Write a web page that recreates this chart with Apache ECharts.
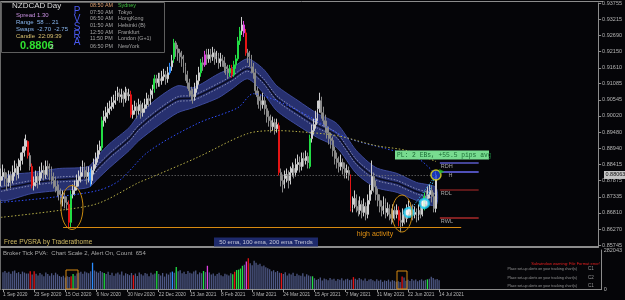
<!DOCTYPE html>
<html><head><meta charset="utf-8">
<script src="https://cdn.jsdelivr.net/npm/echarts@6/dist/echarts.min.js"></script>
<style>html,body{margin:0;padding:0;background:#050508;}#c{width:625px;height:300px;}</style>
</head><body><div id="c"></div>
<script>
const dateTicks = ['1 Sep 2020','23 Sep 2020','15 Oct 2020','6 Nov 2020','30 Nov 2020','22 Dec 2020','15 Jan 2021','8 Feb 2021','3 Mar 2021','24 Mar 2021','15 Apr 2021','7 May 2021','31 May 2021','22 Jun 2021','14 Jul 2021'];
const priceTicks = [0.93755,0.93215,0.92690,0.92150,0.91610,0.91085,0.90545,0.90020,0.89480,0.88940,0.88415,0.87875,0.87335,0.86810,0.86270,0.85745];

const opens = [0.87881,0.88013,0.88145,0.87947,0.87815,0.88046,0.87881,0.88145,0.88277,0.88079,
0.88343,0.88541,0.88805,0.89003,0.89168,0.88706,0.88343,0.87716,0.87815,0.88013,
0.87881,0.88145,0.88211,0.88079,0.88343,0.88277,0.88145,0.88013,0.87881,0.87683,
0.87551,0.87419,0.87287,0.87353,0.87155,0.87089,0.86495,0.87419,0.87551,0.87683,
0.87881,0.88013,0.88145,0.88343,0.88211,0.88013,0.88145,0.87881,0.88211,0.88409,
0.88607,0.88871,0.88970,0.89861,0.89993,0.90125,0.90257,0.90323,0.90455,0.90521,
0.90653,0.90785,0.90653,0.90719,0.90587,0.90785,0.90686,0.90719,0.90059,0.90191,
0.90323,0.90191,0.90389,0.90125,0.90257,0.90389,0.90587,0.90521,0.90719,0.90917,
0.91247,0.91115,0.91247,0.91181,0.91313,0.91379,0.91247,0.91445,0.91643,0.91907,
0.92435,0.92237,0.92105,0.91973,0.91907,0.91643,0.91379,0.91115,0.90851,0.90719,
0.90653,0.90917,0.91181,0.91445,0.91775,0.91709,0.92039,0.91907,0.92039,0.91973,
0.92105,0.91907,0.91973,0.91775,0.91907,0.91841,0.91643,0.91577,0.91445,0.91577,
0.91379,0.91709,0.91907,0.92501,0.92831,0.93029,0.92765,0.92105,0.91973,0.91841,
0.91643,0.91445,0.90851,0.90653,0.90521,0.90389,0.90521,0.90257,0.89993,0.89861,
0.89663,0.89795,0.89597,0.89696,0.88145,0.87881,0.87749,0.87947,0.88079,0.87881,
0.88145,0.88277,0.88145,0.88409,0.88475,0.88343,0.88607,0.88541,0.88673,0.88343,
0.89267,0.89531,0.89729,0.89927,0.90257,0.90521,0.90125,0.89861,0.89663,0.89465,
0.89267,0.89201,0.88871,0.88607,0.88475,0.88343,0.88475,0.88277,0.88145,0.88211,
0.88013,0.86957,0.87089,0.87287,0.87023,0.86891,0.87089,0.86825,0.87023,0.86759,
0.87221,0.87551,0.88013,0.87683,0.87419,0.87221,0.87023,0.86891,0.87089,0.86825,
0.86957,0.86759,0.86627,0.86891,0.86759,0.86891,0.86561,0.86495,0.86759,0.86627,
0.86891,0.87023,0.86891,0.86759,0.86825,0.86693,0.86891,0.86759,0.86957,0.87353,
0.87287,0.87419,0.87551,0.87353,0.86957];

const closes = [0.88013,0.88145,0.87947,0.87815,0.88046,0.87881,0.88145,0.88277,0.88079,0.88343,
0.88541,0.88805,0.89003,0.89201,0.88706,0.88343,0.87716,0.87815,0.88013,0.87881,
0.88145,0.88211,0.88079,0.88343,0.88277,0.88145,0.88013,0.87881,0.87683,0.87551,
0.87419,0.87287,0.87353,0.87155,0.87089,0.86495,0.87419,0.87551,0.87683,0.87881,
0.88013,0.88145,0.88343,0.88211,0.88013,0.88145,0.87881,0.88211,0.88409,0.88607,
0.88871,0.89003,0.89861,0.89993,0.90125,0.90257,0.90323,0.90455,0.90521,0.90653,
0.90785,0.90653,0.90719,0.90587,0.90785,0.90686,0.90719,0.90059,0.90191,0.90323,
0.90191,0.90389,0.90125,0.90257,0.90389,0.90587,0.90521,0.90719,0.90851,0.91247,
0.91115,0.91247,0.91181,0.91313,0.91379,0.91247,0.91445,0.91643,0.91841,0.92435,
0.92237,0.92105,0.91973,0.91907,0.91643,0.91379,0.91115,0.90851,0.90719,0.90653,
0.90917,0.91181,0.91445,0.91775,0.91709,0.92039,0.91907,0.92039,0.91973,0.92105,
0.91907,0.91973,0.91775,0.91907,0.91841,0.91643,0.91577,0.91445,0.91577,0.91379,
0.91709,0.91907,0.92501,0.92831,0.93029,0.92765,0.92105,0.91973,0.91841,0.91643,
0.91445,0.90851,0.90653,0.90521,0.90389,0.90521,0.90257,0.89993,0.89861,0.89663,
0.89795,0.89597,0.89729,0.88145,0.87881,0.87749,0.87947,0.88079,0.87881,0.88145,
0.88277,0.88145,0.88409,0.88475,0.88343,0.88607,0.88541,0.88673,0.88475,0.89267,
0.89531,0.89729,0.89927,0.90257,0.90521,0.90125,0.89861,0.89663,0.89465,0.89267,
0.89201,0.88871,0.88607,0.88475,0.88343,0.88475,0.88277,0.88145,0.88211,0.88079,
0.86957,0.87089,0.87287,0.87023,0.86891,0.87089,0.86825,0.87023,0.86759,0.87221,
0.87551,0.88013,0.87683,0.87419,0.87221,0.87023,0.86891,0.87089,0.86825,0.86957,
0.86759,0.86627,0.86891,0.86759,0.86891,0.86561,0.86495,0.86759,0.86627,0.86891,
0.87023,0.86891,0.86759,0.86825,0.86693,0.86891,0.86759,0.87023,0.87353,0.87287,
0.87419,0.87551,0.87353,0.86957,0.88063];

const highs = [0.88277,0.88409,0.88277,0.88145,0.88211,0.88178,0.88376,0.88541,0.88442,0.88607,
0.88805,0.89003,0.89267,0.89399,0.89201,0.88805,0.88442,0.88013,0.88211,0.88145,
0.88343,0.88475,0.88376,0.88541,0.88541,0.88442,0.88343,0.88145,0.88013,0.87881,
0.87749,0.87617,0.87551,0.87485,0.87353,0.87221,0.87551,0.87749,0.87881,0.88079,
0.88211,0.88343,0.88541,0.88475,0.88343,0.88343,0.88277,0.88343,0.88607,0.88805,
0.89069,0.89201,0.89993,0.90191,0.90323,0.90455,0.90521,0.90653,0.90719,0.90851,
0.90983,0.90917,0.90917,0.90851,0.90983,0.90917,0.90917,0.90851,0.90389,0.90521,
0.90455,0.90587,0.90521,0.90455,0.90587,0.90785,0.90719,0.90917,0.91049,0.91379,
0.91379,0.91445,0.91445,0.91511,0.91577,0.91511,0.91643,0.91775,0.92039,0.92567,
0.92501,0.92369,0.92237,0.92171,0.92039,0.91775,0.91511,0.91247,0.90983,0.90917,
0.91115,0.91379,0.91643,0.91907,0.91973,0.92171,0.92237,0.92237,0.92237,0.92303,
0.92237,0.92171,0.92105,0.92105,0.92039,0.91973,0.91775,0.91709,0.91709,0.91709,
0.91841,0.92039,0.92633,0.92963,0.93293,0.93161,0.92897,0.92237,0.92171,0.92039,
0.91775,0.91577,0.90983,0.90851,0.90719,0.90785,0.90653,0.90389,0.90191,0.90059,
0.89993,0.89927,0.89927,0.89795,0.88277,0.88079,0.88211,0.88277,0.88211,0.88343,
0.88475,0.88409,0.88607,0.88739,0.88673,0.88805,0.88805,0.88871,0.88805,0.89399,
0.89729,0.89927,0.90191,0.90521,0.90785,0.90653,0.90323,0.90059,0.89861,0.89663,
0.89465,0.89333,0.89003,0.88805,0.88673,0.88739,0.88607,0.88475,0.88409,0.88343,
0.88079,0.87353,0.87551,0.87419,0.87221,0.87353,0.87221,0.87287,0.87155,0.87419,
0.87749,0.88541,0.88145,0.87881,0.87617,0.87419,0.87221,0.87353,0.87287,0.87155,
0.87089,0.86957,0.87089,0.87023,0.87089,0.87023,0.86825,0.86957,0.86891,0.87089,
0.87221,0.87155,0.87089,0.87023,0.86957,0.87089,0.87023,0.87221,0.87485,0.87551,
0.87683,0.87749,0.87683,0.87485,0.88178];

const lows = [0.87683,0.87881,0.87716,0.87551,0.87683,0.87617,0.87782,0.88013,0.87881,0.87947,
0.88211,0.88409,0.88673,0.88871,0.88607,0.88211,0.87617,0.87551,0.87683,0.87617,
0.87749,0.87947,0.87881,0.87947,0.88013,0.87881,0.87749,0.87617,0.87485,0.87353,
0.87221,0.87089,0.87023,0.86957,0.86891,0.86330,0.86330,0.87287,0.87386,0.87551,
0.87683,0.87815,0.88013,0.87947,0.87749,0.87815,0.87683,0.87749,0.88079,0.88277,
0.88475,0.88739,0.88871,0.89663,0.89795,0.89927,0.90059,0.90191,0.90257,0.90389,
0.90521,0.90455,0.90455,0.90323,0.90455,0.90521,0.90521,0.89960,0.89927,0.90059,
0.89927,0.90059,0.89927,0.89993,0.90125,0.90257,0.90323,0.90389,0.90587,0.90785,
0.90917,0.90983,0.90983,0.91049,0.91181,0.91049,0.91115,0.91379,0.91511,0.91775,
0.91973,0.91841,0.91775,0.91643,0.91445,0.91181,0.90917,0.90653,0.90521,0.90422,
0.90521,0.90785,0.91049,0.91313,0.91511,0.91643,0.91709,0.91775,0.91775,0.91841,
0.91709,0.91775,0.91577,0.91643,0.91643,0.91445,0.91379,0.91247,0.91313,0.91280,
0.91313,0.91577,0.91841,0.92369,0.92699,0.92633,0.92006,0.91775,0.91643,0.91445,
0.91247,0.90719,0.90389,0.90257,0.90191,0.90257,0.90059,0.89795,0.89663,0.89465,
0.89531,0.89399,0.89465,0.88046,0.87683,0.87485,0.87617,0.87815,0.87617,0.87749,
0.88013,0.87947,0.88013,0.88211,0.88145,0.88211,0.88343,0.88409,0.88277,0.88277,
0.89135,0.89399,0.89597,0.89795,0.90125,0.89927,0.89663,0.89465,0.89267,0.89069,
0.88937,0.88673,0.88409,0.88277,0.88145,0.88211,0.88079,0.87947,0.87947,0.87881,
0.86858,0.86825,0.86957,0.86825,0.86693,0.86759,0.86627,0.86693,0.86561,0.86627,
0.87089,0.87419,0.87485,0.87221,0.87023,0.86825,0.86693,0.86759,0.86627,0.86693,
0.86561,0.86429,0.86495,0.86561,0.86627,0.86363,0.86165,0.86363,0.86429,0.86495,
0.86759,0.86693,0.86561,0.86627,0.86495,0.86561,0.86627,0.86693,0.86891,0.87089,
0.87155,0.87287,0.87155,0.86825,0.86825];

const volumes = [121000,130000,118000,125000,110000,128000,134000,115000,122000,108000,126000,119000,112000,
112000,128000,104000,128000,
110000,98000,116000,104000,92000,120000,108000,96000,114000,100000,118000,106000,94000,
88000,96000,84000,92000,86000,
92000,108000,
96000,112000,118000,124000,110000,126000,120000,114000,128000,
190000,
134000,126000,118000,130000,122000,
116000,
108000,124000,102000,118000,96000,112000,120000,104000,126000,98000,114000,108000,100000,116000,
100000,
112000,94000,120000,106000,98000,116000,110000,92000,118000,104000,112000,
130000,
108000,98000,116000,90000,112000,104000,120000,
126000,118000,160000,
128000,136000,114000,124000,108000,130000,118000,112000,126000,134000,106000,120000,114000,
130000,122000,168000,
120000,104000,112000,96000,108000,118000,100000,92000,110000,104000,98000,114000,
107000,125000,137000,140000,148000,168000,176000,198000,222000,
186000,172000,205000,190000,176000,182000,164000,170000,158000,
150000,142000,128000,136000,122000,130000,118000,
115000,
108000,122000,98000,112000,104000,118000,94000,110000,100000,96000,114000,90000,106000,98000,92000,
92000,
78000,66000,72000,84000,62000,76000,70000,64000,80000,68000,74000,60000,72000,66000,78000,62000,70000,74000,64000,68000,
86000,
74000,66000,80000,70000,62000,76000,58000,68000,72000,64000,56000,70000,60000,66000,52000,62000,58000,68000,54000,64000,60000,
52000,56000,50000,
90000,84000,60000,
66000,58000,72000,62000,68000,56000,64000,70000,60000,66000,
70000,
74000,89000,80000,68000,72000,64000];

const climaxUp = [36,52,79,89,103,118,120,121,122,123,159,218];
const climaxDown = [14,16,35,67,119,126,143,180,205];
const risingUp = [46,87];
const risingDown = [105,125];

const bandIdx   = [0,16,30,45,50,56,66,71,81,91,99,112,119,127,135,142,153,163,173,183,193,204,214,224];
const bandUpper = [0.87980,0.88145,0.88277,0.88343,0.88706,0.89102,0.89630,0.90059,0.90620,0.91016,0.90950,0.91412,0.91610,0.91907,0.91577,0.91016,0.90521,0.90092,0.89762,0.88871,0.88310,0.88112,0.87815,0.87650];
const bandLower = [0.87221,0.87452,0.87551,0.87650,0.87947,0.88310,0.88871,0.89201,0.89696,0.90125,0.90290,0.90620,0.90917,0.91247,0.90785,0.90191,0.89696,0.89300,0.88970,0.88112,0.87650,0.87485,0.87221,0.87056];

const ema100Idx = [0,26,50,61,76,101,122,130,142,153,158,178,198,214,224];
const ema100    = [0.87155,0.87320,0.87551,0.87881,0.88838,0.89762,0.90290,0.90752,0.90521,0.90191,0.90026,0.89300,0.88937,0.88640,0.88079];
const ema200Idx = [0,30,50,71,76,101,127,142,153,173,193,209,224];
const ema200    = [0.86660,0.86891,0.87122,0.87815,0.87947,0.88640,0.89432,0.89531,0.89498,0.89366,0.89036,0.88871,0.88508];

const levelNames  = ['RDH','H','RDL','RWL'];
const levelValues = [0.88475,0.88178,0.87584,0.86660];
const currentPrice = 0.88063;
const lowLevel = 0.86340;
const signalIdx = [210,218];
const signalPrice = [0.86825,0.87122];
const volumeMax = 282043;
const sessionTimes = ['08:50 AM','07:50 AM','06:50 AM','01:50 AM','12:50 AM','11:50 PM','06:50 PM'];
const sessionNames = ['Sydney','Tokyo','HongKong','Helsinki (B)','Frankfurt','London (G+1)','NewYork'];

const SLOTS = 308;
const LAST = opens.length - 1;
const FONT = '"Liberation Sans", Arial, sans-serif';
const cats = Array.from({length: SLOTS}, (_, i) => String(i));

const kinds = opens.map(() => 'n');
climaxUp.forEach(i => kinds[i] = 'cu');
climaxDown.forEach(i => kinds[i] = 'cd');
risingUp.forEach(i => kinds[i] = 'ru');
risingDown.forEach(i => kinds[i] = 'rd');
const special = {cu:'#22dd44', cd:'#e41414', ru:'#2a8cff', rd:'#e040e0'};

const candleData = opens.map((o, i) => {
  const k = kinds[i];
  const c = k === 'n' ? (closes[i] >= o ? '#cfcfcf' : '#8a8a8a') : special[k];
  return {value:[o, closes[i], lows[i], highs[i]], itemStyle:{color:c, color0:c, borderColor:c, borderColor0:c}};
});
const volData = volumes.map((v, i) => ({value:v, itemStyle:{color: kinds[i] === 'n' ? '#4d5784' : special[kinds[i]]}}));

const tickInt = (index) => index % 16 === 0 && index / 16 < dateTicks.length;

const levelColors = ['#5a5ac8','#6a6af5','#7a1f1f','#a82a2a'];
const levelLines = levelNames.map((n, k) => [
  {coord:[226, levelValues[k]], lineStyle:{color:levelColors[k], width:1.5, type:'solid'},
   label:{show:true, position:'insideStartBottom', formatter: n === 'H' ? '     H' : n, color:'#a8a8a8', fontSize:5.5, fontFamily:FONT, distance:1}},
  {coord:[246, levelValues[k]]}
]);

function txt(x, y, text, color, size, extra) {
  return Object.assign({type:'text', x, y, silent:true, z:100,
    style:{text, fill:color, font:`${size}px ${FONT}`, verticalAlign:'middle', align:'left'}}, extra || {});
}

const graphics = [
  {type:'line', silent:true, shape:{x1:0,y1:1.5,x2:603,y2:1.5}, style:{stroke:'#8c8c8c', lineWidth:1}},
  {type:'line', silent:true, shape:{x1:0.5,y1:1,x2:0.5,y2:290}, style:{stroke:'#6a6a6a', lineWidth:1}},
  {type:'rect', silent:true, z:99, shape:{x:1.5,y:2.5,width:163,height:50}, style:{fill:'#050508', stroke:'#5e5e5e', lineWidth:1}},
  txt(12, 6, 'NZDCAD', '#d8d8d8', 8),
  txt(47, 6, 'Day', '#d8d8d8', 8),
  txt(16, 15.7, 'Spread 1.30', '#c890e0', 6),
  txt(16, 22.7, 'Range  58 ... 21', '#8ab8f0', 6),
  txt(16, 29.3, 'Swaps  -2.70  -2.75', '#8ab8f0', 6),
  txt(16, 36, 'Candle  22:09:39', '#d8c070', 6),
  {type:'text', x:20, y:45.7, silent:true, z:100, style:{text:'0.8806', fill:'#30e030', font:`bold 11px ${FONT}`, verticalAlign:'middle'}},
  txt(50, 47, '2', '#c8c8c8', 6.5),
];
['P','V','S','R','A'].forEach((ch, k) => graphics.push(
  {type:'text', x:77, y:11.5 + k*7.8, silent:true, z:100, style:{text:ch, fill:'#4a5af0', font:`10px ${FONT}`, align:'center', verticalAlign:'middle'}}));
const rowY = [5.7,12.3,19,25.7,32.3,39,46.7];
sessionTimes.forEach((t, k) => graphics.push(txt(90, rowY[k], t, k === 0 ? '#e0a070' : '#a4a4a4', 5.4)));
sessionNames.forEach((t, k) => graphics.push(txt(118, rowY[k], t, k === 0 ? '#40c040' : '#a4a4a4', 5.4)));
graphics.push(
  {type:'ellipse', silent:true, z:50, shape:{cx:72,cy:207.5,rx:11,ry:22}, style:{fill:'transparent', stroke:'#c88a10', lineWidth:1}},
  {type:'ellipse', silent:true, z:50, shape:{cx:402,cy:213.5,rx:10,ry:18.5}, style:{fill:'transparent', stroke:'#c88a10', lineWidth:1}},
  {type:'text', x:375, y:234, silent:true, z:100, style:{text:'high activity', fill:'#e09012', font:`7px ${FONT}`, align:'center', verticalAlign:'middle'}},
  txt(4, 242, 'Free PVSRA by Traderathome', '#d2bc64', 6.5),
  {type:'rect', silent:true, z:99, shape:{x:214,y:237.5,width:104,height:9}, style:{fill:'#1e2a6c'}},
  {type:'text', x:266, y:242, silent:true, z:100, style:{text:'50 ema, 100 ema, 200 ema Trends', fill:'#c4c6d8', font:`6px ${FONT}`, align:'center', verticalAlign:'middle'}},
  txt(3, 253, 'Broker Tick PVA:  Chart Scale 2, Alert On, Count  654', '#a8a8a8', 6),
  {type:'rect', silent:true, z:50, shape:{x:66,y:270,width:12,height:19}, style:{fill:'transparent', stroke:'#d88a10', lineWidth:1}},
  {type:'rect', silent:true, z:50, shape:{x:397,y:271,width:10,height:18}, style:{fill:'transparent', stroke:'#d88a10', lineWidth:1}},
  {type:'text', x:600, y:264, silent:true, z:100, style:{text:'Subwindow warning: File Format error!', fill:'#e82020', font:`4px ${FONT}`, align:'right', verticalAlign:'middle'}},
  {type:'rect', silent:true, z:99, shape:{x:395,y:150.5,width:94,height:9}, style:{fill:'#78dc90'}},
  {type:'text', x:397, y:155, silent:true, z:100, style:{text:'PL: 2 EBs, +55.5 pips avg', fill:'#1a6a34', font:`6.3px "Liberation Mono", monospace`, verticalAlign:'middle'}}
);
[269, 277.5, 286].forEach((y, k) => {
  graphics.push({type:'text', x:577, y, silent:true, z:100, style:{text:'Place set-up alerts on your tracking chart(s)', fill:'#9a9a9a', font:`3.6px ${FONT}`, align:'right', verticalAlign:'middle'}});
  graphics.push(txt(588, y, k === 1 ? 'C2' : 'C1', '#9a9a9a', 4.5));
});

const chart = echarts.init(document.getElementById('c'), null, {renderer:'canvas'});
chart.setOption({
  backgroundColor:'#050508',
  animation:false,
  grid:[{left:0, right:22, top:2, height:245}, {left:0, right:22, top:250, height:39}],
  xAxis:[
    {type:'category', gridIndex:0, data:cats, boundaryGap:true,
     axisLine:{show:true, onZero:false, lineStyle:{color:'#8c8c8c', width:2}}, axisTick:{show:false}, axisLabel:{show:false}, splitLine:{show:false}},
    {type:'category', gridIndex:1, data:cats, boundaryGap:true,
     axisLine:{show:true, onZero:false, lineStyle:{color:'#8c8c8c', width:1}},
     axisTick:{show:true, interval:tickInt, alignWithLabel:true, length:3, lineStyle:{color:'#9a9a9a'}},
     axisLabel:{interval:tickInt, formatter:(v, i) => dateTicks[i / 16] || '', color:'#b8b8b8', fontSize:4.8, fontFamily:FONT, align:'left', margin:3},
     splitLine:{show:false}}
  ],
  yAxis:[
    {type:'value', gridIndex:0, position:'right', min:0.85679, max:0.93755,
     axisLine:{show:true, lineStyle:{color:'#8c8c8c'}},
     axisTick:{show:true, customValues:priceTicks, length:3, lineStyle:{color:'#8c8c8c'}},
     axisLabel:{customValues:priceTicks, formatter:v => v.toFixed(5), color:'#b4b4b4', fontSize:5.5, fontFamily:FONT, margin:4},
     splitLine:{show:false}},
    {type:'value', gridIndex:1, position:'right', min:0, max:volumeMax,
     axisLine:{show:true, lineStyle:{color:'#8c8c8c'}},
     axisTick:{show:false},
     axisLabel:{customValues:[0, volumeMax], formatter:v => String(Math.round(v)), color:'#b4b4b4', fontSize:5.5, fontFamily:FONT, margin:2},
     splitLine:{show:false}}
  ],
  series:[
    {type:'custom', xAxisIndex:0, yAxisIndex:0, z:1, silent:true, data:[[bandIdx[0], bandUpper[0]]],
     renderItem(params, api) {
       const up = bandIdx.map((x, k) => api.coord([x, bandUpper[k]]));
       const lo = bandIdx.map((x, k) => api.coord([x, bandLower[k]]));
       const mid = up.map((p, k) => [p[0], (p[1] + lo[k][1]) / 2]);
       const off = (pts, d) => pts.map(p => [p[0], p[1] + d]);
       return {type:'group', children:[
         {type:'polygon', shape:{points: up.concat(lo.slice().reverse()), smooth:0.25}, style:{fill:'#27306f', stroke:'#3d4a9a', lineWidth:1}},
         {type:'polyline', shape:{points: off(mid, -2.5), smooth:0.25}, style:{stroke:'#a0a6c8', lineWidth:0.8, lineDash:[1.5,1.5], fill:null}},
         {type:'polyline', shape:{points: mid, smooth:0.25}, style:{stroke:'#0b0d22', lineWidth:1.6, fill:null}},
         {type:'polyline', shape:{points: off(mid, 2.5), smooth:0.25}, style:{stroke:'#a0a6c8', lineWidth:0.8, lineDash:[1.5,1.5], fill:null}}
       ]};
     }},
    {type:'candlestick', xAxisIndex:0, yAxisIndex:0, z:2, barWidth:1.4, data:candleData, silent:true,
     markLine:{symbol:['none','none'], silent:true, animation:false, label:{show:false},
       data:[
         [{coord:[57, currentPrice], lineStyle:{color:'#7a7a7a', type:[1,2], width:1}}, {coord:[LAST, currentPrice]}],
         [{coord:[32, lowLevel], lineStyle:{color:'#d88a10', width:1, type:'solid'}}, {coord:[237, lowLevel]}]
       ].concat(levelLines)}},
    {type:'line', xAxisIndex:0, yAxisIndex:0, z:3, silent:true, symbol:'none', smooth:0.3,
     data: ema100Idx.map((x, k) => [x, ema100[k]]), lineStyle:{color:'#3050ff', width:1, type:[1.5,2]}},
    {type:'line', xAxisIndex:0, yAxisIndex:0, z:3, silent:true, symbol:'none', smooth:0.3,
     data: ema200Idx.map((x, k) => [x, ema200[k]]), lineStyle:{color:'#b8b048', width:1, type:[1.5,2]}},
    {type:'scatter', xAxisIndex:0, yAxisIndex:0, z:10, silent:true, symbolSize:9,
     data: signalIdx.map((x, k) => [x, signalPrice[k]]),
     itemStyle:{color:'#ffffff', borderColor:'#18c8f0', borderWidth:2.5},
     markLine:{symbol:['none','none'], silent:true, label:{show:false}, lineStyle:{color:'#34a8e0', type:[1.5,1.5], width:1},
       data: signalIdx.map((x, k) => [{coord:[x, signalPrice[k]]}, {coord:[LAST, currentPrice]}])}},
    {type:'scatter', xAxisIndex:0, yAxisIndex:0, z:11, silent:true, symbolSize:10,
     data:[[LAST, currentPrice]], itemStyle:{color:'#1f3fd8', borderColor:'#e8e020', borderWidth:1.5}},
    {type:'scatter', xAxisIndex:0, yAxisIndex:0, z:11, silent:true, symbol:'triangle', symbolRotate:-90, symbolSize:5,
     data:[[227, levelValues[1]]], itemStyle:{color:'#20c020'}},
    {type:'bar', xAxisIndex:1, yAxisIndex:1, barWidth:1.3, silent:true, data:volData}
  ],
  graphic: graphics
});

const py = chart.convertToPixel({yAxisIndex:0}, currentPrice);
chart.setOption({graphic: graphics.concat([
  {type:'rect', silent:true, z:120, shape:{x:604, y:py - 4, width:21, height:8}, style:{fill:'#c4c4c4'}},
  {type:'text', x:605.5, y:py, silent:true, z:121, style:{text:currentPrice.toFixed(5), fill:'#101010', font:`5.5px ${FONT}`, verticalAlign:'middle'}}
])});
</script>
</body></html>
